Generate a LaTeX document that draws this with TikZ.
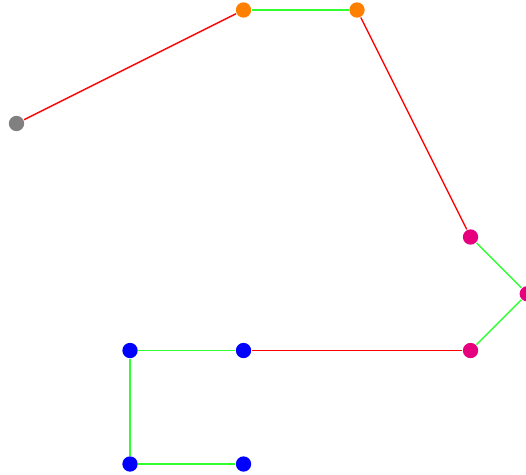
\documentclass[tikz,border=0pt]{standalone}
\usepackage{tikz}
\definecolor{pinkdot}{RGB}{230,0,126}
\definecolor{orangedot}{RGB}{255,128,0}
\definecolor{greydot}{RGB}{128,128,128}
\definecolor{greenline}{RGB}{50,255,50}
\begin{document}
\begin{tikzpicture}[
        dot/.style={circle, inner sep=0pt, minimum size=0.135cm},
        link/.style={line width=0.35pt},
    ]
            \useasboundingbox (-0.1454, -3.0881) rectangle (4.4886, 1.0881);

            \node[style=dot, fill=greydot] (g0) at (0, 0) {};
            \node[style=dot, fill=orangedot] (o0) at (2, 1) {};
            \node[style=dot, fill=orangedot] (o1) at (3, 1) {};
            \node[style=dot, fill=pinkdot] (p0) at (4, -1) {};
            \node[style=dot, fill=pinkdot] (p1) at (4.5, -1.5) {};
            \node[style=dot, fill=pinkdot] (p2) at (4, -2) {};
            \node[style=dot, fill=blue] (b0) at (2, -2) {};
            \node[style=dot, fill=blue] (b1) at (1, -2) {};
            \node[style=dot, fill=blue] (b2) at (1, -3) {};
            \node[style=dot, fill=blue] (b3) at (2, -3) {};

            % g0-o0
            \draw[link, red] (g0) -- (o0);
            % o0-o1
            \draw[link, greenline] (o0) -- (o1);
            % o1-p0
            \draw[link, red] (o1) -- (p0);
            % p0-p1-p2
            \draw[link, greenline] (p0) -- (p1);
            \draw[link, greenline] (p1) -- (p2);
            % p2-b0
            \draw[link, red] (p2) -- (b0);
            % b0-b1-b2-b3
            \draw[link, greenline] (b0) -- (b1);
            \draw[link, greenline] (b1) -- (b2);
            \draw[link, greenline] (b2) -- (b3);
        \end{tikzpicture}
\end{document}
